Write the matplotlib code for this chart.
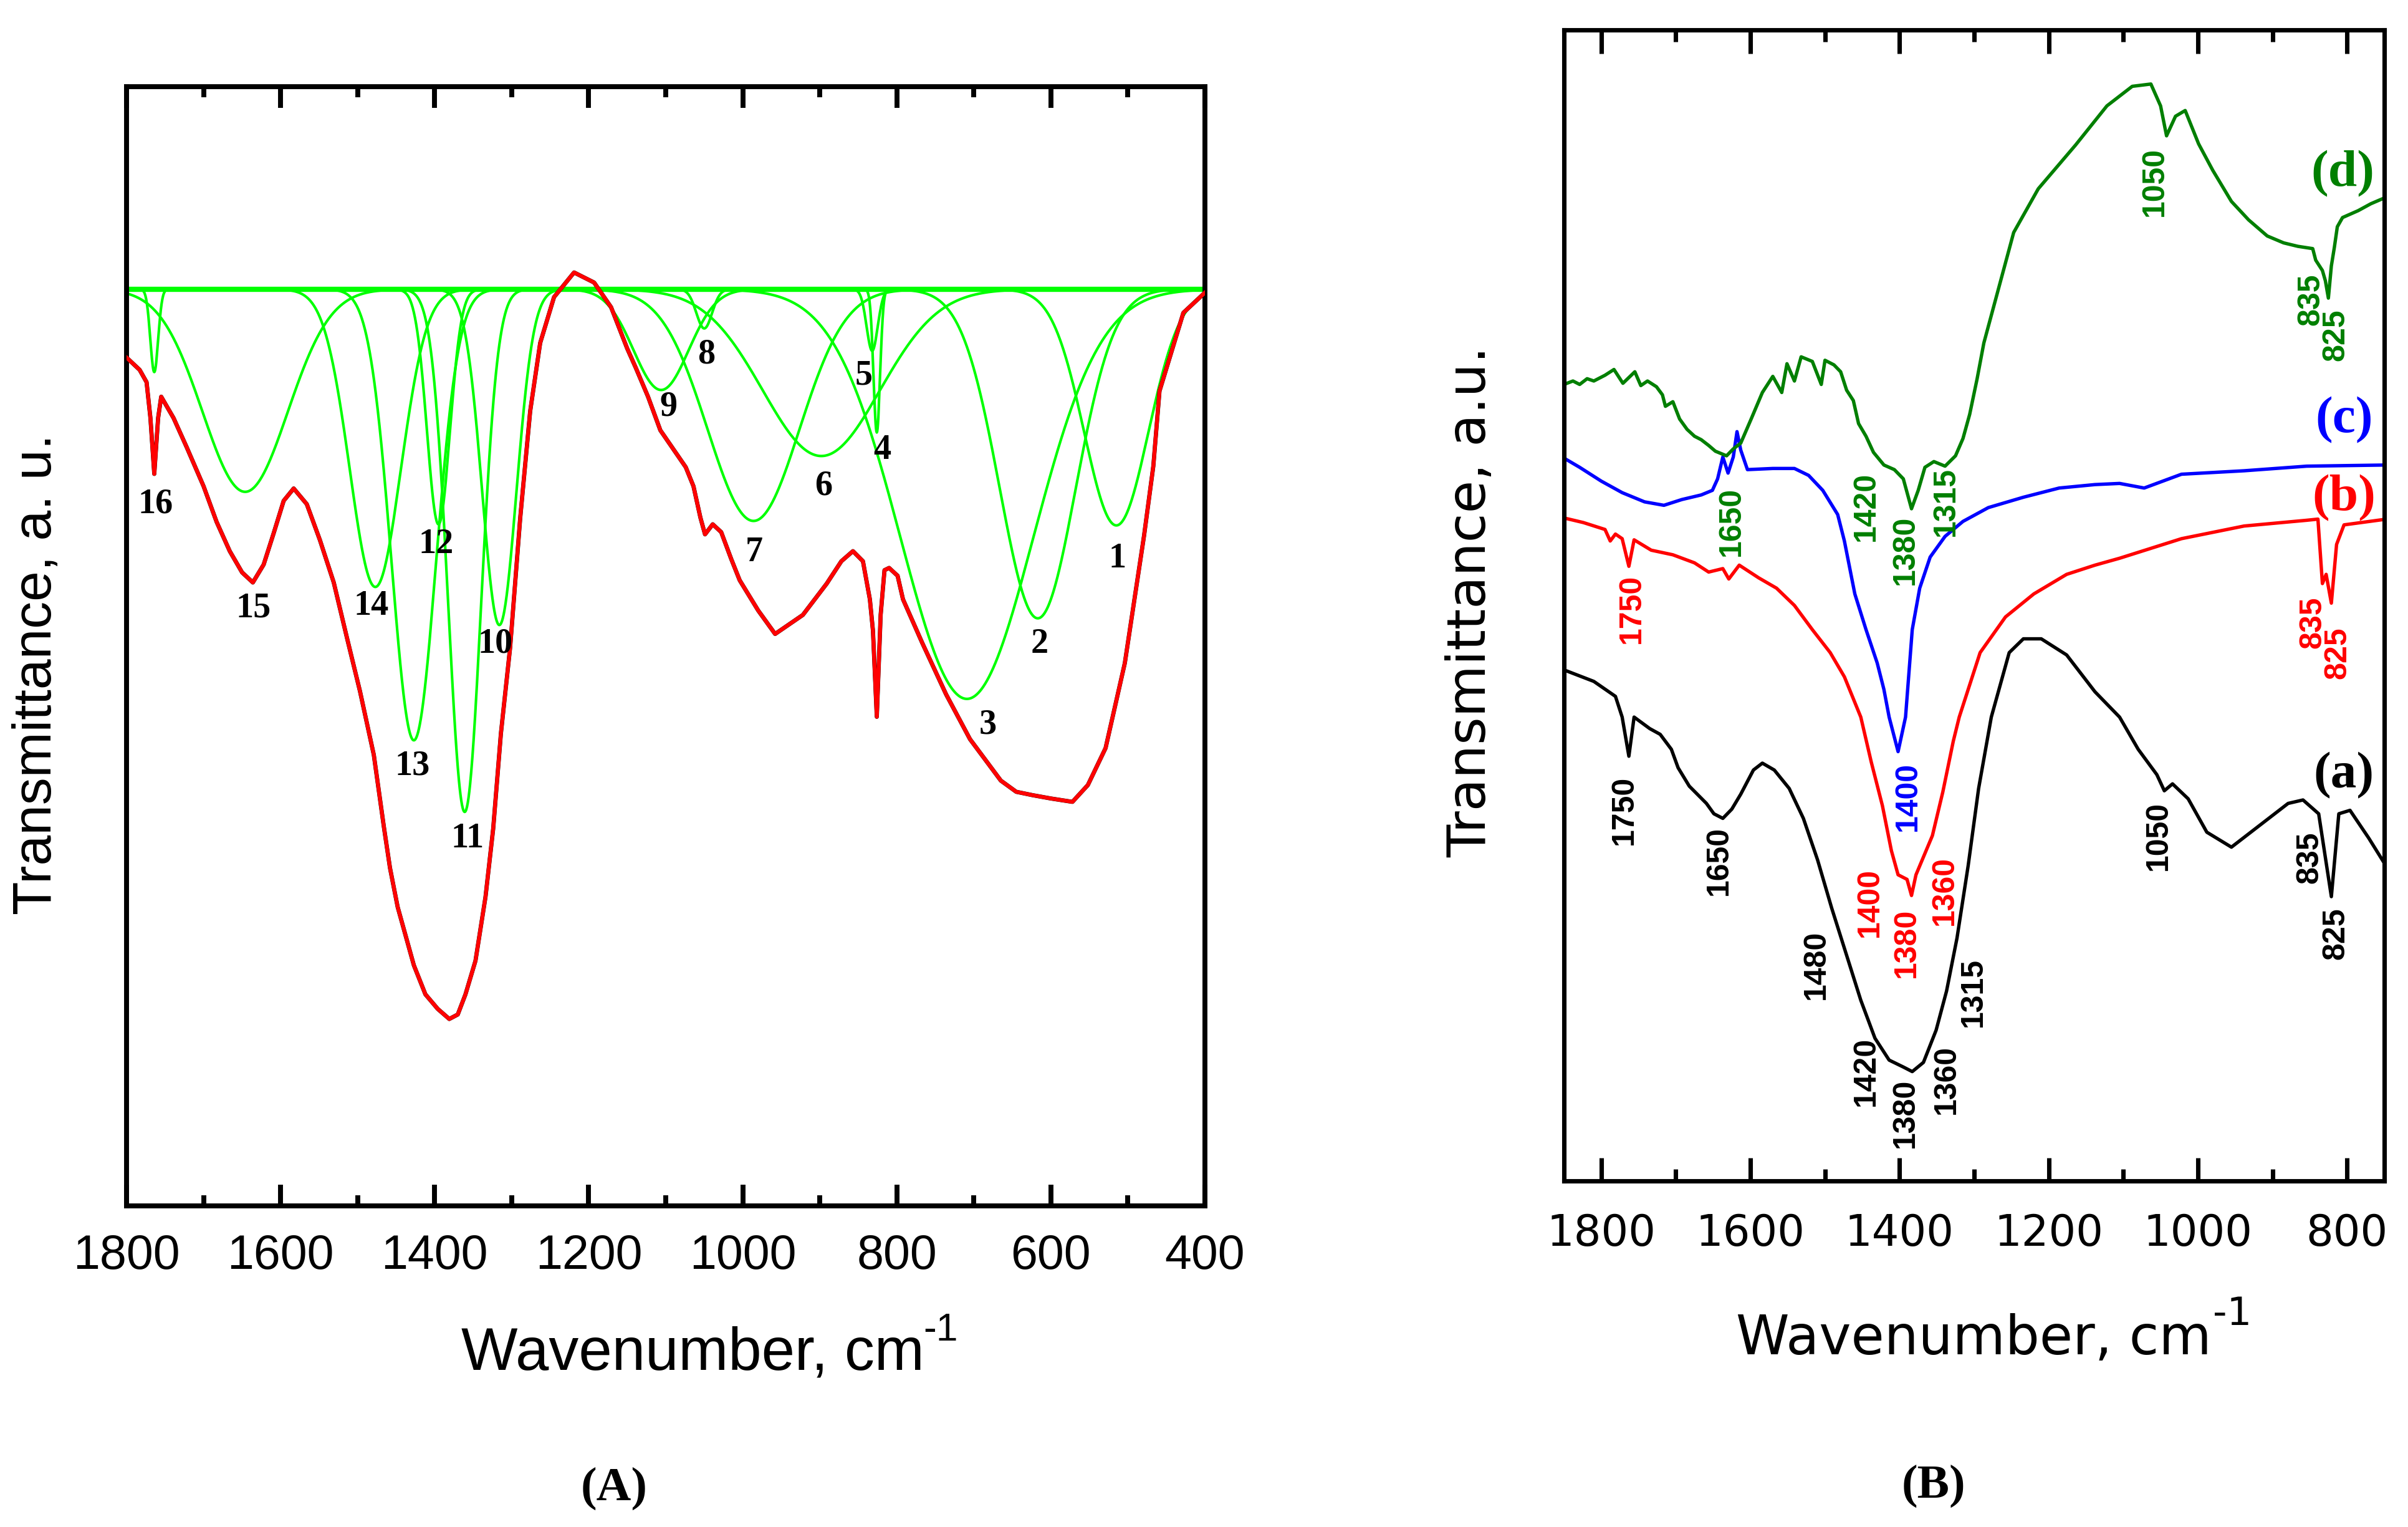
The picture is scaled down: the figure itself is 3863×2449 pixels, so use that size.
import numpy as np
import matplotlib
matplotlib.use("Agg")
import matplotlib.pyplot as plt
from matplotlib.ticker import MultipleLocator

plt.rcParams['font.family'] = ['Liberation Sans', 'DejaVu Sans']

# ---------------- panel A: measured spectrum (wavenumber, transmittance a.u.)
specA_w = [1800, 1783, 1774, 1769, 1764, 1759, 1755, 1739, 1722, 1700, 1683, 1666,
           1650, 1636, 1622, 1609, 1596, 1583, 1566, 1549, 1531, 1514, 1497, 1479,
           1466, 1458, 1448, 1427, 1412, 1396, 1381, 1370, 1360, 1347, 1334, 1324,
           1314, 1302, 1289, 1276, 1263, 1245, 1219, 1193, 1171, 1150, 1139, 1123,
           1107, 1090, 1074, 1064, 1055, 1049, 1039, 1028, 1015, 1004, 980, 958, 922,
           891, 872, 857, 844, 835, 831, 826, 821, 816, 810, 799, 792, 767, 736, 705,
           665, 645, 624, 600, 572, 552, 529, 504, 479, 467, 459, 428, 400]
specA_t = [75.8, 74.7, 73.6, 70.4, 65.4, 70.4, 72.3, 70.4, 67.8, 64.3, 61.1, 58.5,
           56.6, 55.7, 57.3, 60.1, 63.0, 64.1, 62.7, 59.5, 55.7, 50.8, 46.0, 40.3,
           33.9, 30.2, 26.7, 21.5, 18.9, 17.6, 16.7, 17.1, 18.9, 21.9, 27.6, 33.7,
           42.2, 49.9, 61.4, 71.0, 77.1, 81.2, 83.4, 82.5, 80.3, 76.6, 74.9, 72.3,
           69.3, 67.6, 66.0, 64.3, 61.5, 60.0, 60.9, 60.2, 57.8, 55.9, 53.2, 51.1,
           52.8, 55.6, 57.6, 58.5, 57.6, 54.2, 51.4, 43.7, 52.8, 56.8, 57.0, 56.3,
           54.2, 50.3, 45.7, 41.7, 38.0, 37.0, 36.7, 36.4, 36.1, 37.6, 40.9, 48.5,
           59.9, 66.1, 72.8, 79.8, 81.6]

# fitted bands 1..16: centre, depth below baseline, FWHM
band_baseline = 81.9
band_centre = [515, 617, 709, 826, 832, 898, 986, 1050, 1106, 1316, 1361, 1395, 1427, 1477, 1646, 1764]
band_depth = [21.1, 29.4, 36.6, 12.8, 5.5, 14.9, 20.7, 3.5, 9.0, 30.0, 46.7, 21.0, 40.3, 26.6, 18.1, 7.4]
band_fwhm = [98, 116, 203, 10, 17, 179, 140, 24, 84, 52, 50, 35, 68, 78, 130, 12]
band_label_w = [514, 615, 682, 819, 843, 895, 985, 1047, 1096, 1321, 1357, 1398, 1429, 1482, 1635, 1762]
band_label_t = [57.8, 50.2, 43.0, 67.5, 74.2, 64.3, 58.4, 76.1, 71.4, 50.2, 32.8, 59.1, 39.3, 53.6, 53.4, 62.7]

# ---------------- panel B: spectra (a)-(d)
a_w = [1850, 1810, 1781, 1772, 1763, 1756, 1735, 1721, 1706, 1697, 1682, 1659, 1649,
       1637, 1625, 1613, 1596, 1584, 1568, 1548, 1529, 1510, 1491, 1471, 1452, 1433,
       1414, 1395, 1383, 1368, 1351, 1337, 1323, 1308, 1294, 1277, 1253, 1234,
       1210, 1176, 1138, 1105, 1080, 1055, 1045, 1034, 1013, 988, 955, 921, 879, 859,
       838, 821, 811, 796, 771, 747]
a_t = [44.4, 43.4, 42.1, 40.3, 36.9, 40.3, 39.3, 38.8, 37.5, 35.9, 34.3, 32.8, 31.9,
       31.5, 32.3, 33.6, 35.7, 36.3, 35.7, 34.1, 31.5, 27.9, 23.7, 19.6, 15.7, 12.4,
       10.5, 9.9, 9.5, 10.3, 13.1, 16.5, 21.1, 27.4, 34.1, 40.3, 45.9, 47.1,
       47.1, 45.7, 42.5, 40.3, 37.5, 35.3, 33.9, 34.5, 33.2, 30.3, 29.0, 30.7, 32.8,
       33.1, 31.9, 24.7, 31.9, 32.2, 29.8, 27.3]

b_w = [1850, 1824, 1795, 1788, 1781, 1772, 1763, 1756, 1733, 1704, 1675, 1656, 1637,
       1629, 1615, 1589, 1565, 1541, 1517, 1493, 1474, 1452, 1438, 1423, 1411, 1402,
       1390, 1384, 1378, 1356, 1342, 1328, 1320, 1292, 1258, 1220, 1176, 1138, 1105,
       1022, 938, 854, 839, 833, 828, 821, 814, 804, 747]
b_t = [57.6, 57.2, 56.6, 55.6, 56.2, 55.8, 53.4, 55.7, 54.8, 54.4, 53.7, 52.9, 53.2,
       52.3, 53.5, 52.4, 51.5, 50.0, 47.9, 45.9, 43.8, 40.3, 36.4, 32.6, 28.7, 26.6,
       26.2, 24.8, 26.6, 30.0, 33.8, 38.2, 40.3, 45.9, 49.0, 51.0, 52.7, 53.5, 54.1,
       55.8, 56.9, 57.4, 57.5, 51.9, 52.7, 50.2, 55.3, 57.0, 57.5]

c_w = [1850, 1829, 1800, 1772, 1742, 1716, 1692, 1666, 1651, 1644, 1637, 1630, 1623,
       1618, 1613, 1604, 1570, 1541, 1522, 1503, 1483, 1474, 1460, 1445, 1430, 1421,
       1414, 1402, 1392, 1383, 1373, 1359, 1339, 1315, 1281, 1234, 1186, 1138, 1105,
       1072, 1022, 938, 854, 747]
c_t = [62.8, 62.0, 60.8, 59.8, 59.0, 58.7, 59.2, 59.6, 60.0, 61.0, 62.9, 61.5, 62.9,
       65.1, 63.5, 61.8, 61.9, 61.9, 61.3, 60.0, 57.9, 55.6, 51.0, 47.9, 45.0, 42.7,
       40.3, 37.3, 40.3, 47.9, 51.5, 54.2, 56.0, 57.3, 58.5, 59.4, 60.2, 60.5, 60.6,
       60.2, 61.4, 61.7, 62.1, 62.2]

d_w = [1850, 1838, 1829, 1819, 1810, 1795, 1783, 1771, 1755, 1747, 1738, 1726, 1718,
       1714, 1704, 1695, 1685, 1675, 1666, 1656, 1647, 1632, 1623, 1613, 1599, 1584,
       1570, 1558, 1551, 1541, 1532, 1517, 1505, 1500, 1488, 1479, 1471, 1462, 1455,
       1445, 1435, 1421, 1407, 1395, 1384, 1375, 1366, 1354, 1339, 1325, 1315, 1306,
       1296, 1287, 1272, 1247, 1214, 1164, 1122, 1088, 1063, 1050, 1042, 1030, 1017,
       999, 980, 955, 932, 907, 885, 866, 846, 842, 833, 829, 825, 821, 817, 813,
       806, 785, 768, 750]
d_t = [69.2, 69.5, 69.2, 69.7, 69.5, 70.0, 70.5, 69.3, 70.3, 69.1, 69.5, 69.0, 68.3,
       67.3, 67.7, 66.2, 65.3, 64.7, 64.4, 63.9, 63.4, 63.0, 63.6, 64.1, 66.2, 68.5,
       69.9, 68.5, 71.0, 69.5, 71.6, 71.2, 69.2, 71.3, 70.9, 70.3, 68.7, 67.8, 65.8,
       64.7, 63.3, 62.2, 61.8, 61.0, 58.4, 60.0, 62.0, 62.5, 62.1, 63.0, 64.5, 66.6,
       69.7, 72.8, 76.4, 82.4, 86.2, 90.0, 93.4, 95.1, 95.3, 93.4, 90.8, 92.5, 93.0,
       90.1, 87.8, 85.1, 83.5, 82.1, 81.5, 81.2, 81.0, 80.0, 79.1, 78.2, 76.7, 79.5,
       81.1, 82.9, 83.7, 84.3, 84.9, 85.4]

# peak labels on panel B: text, wavenumber, height, series
peak_text = ['1750', '1650', '1480', '1420', '1380', '1360', '1315', '1050', '835', '825',
             '1750', '1400', '1380', '1360', '835', '825',
             '1400',
             '1650', '1420', '1380', '1315', '1050', '835', '825']
peak_w = [1769, 1642, 1512, 1445, 1392, 1337, 1301, 1053, 850, 815,
          1759, 1440, 1390, 1339, 846, 812,
          1389,
          1625, 1445, 1392, 1338, 1058, 848, 815]
peak_t = [32.2, 27.8, 18.8, 9.5, 5.9, 8.8, 16.4, 30.0, 28.1, 21.5,
          49.7, 24.2, 20.7, 25.2, 48.5, 45.9,
          33.4,
          57.3, 58.6, 54.8, 59.0, 86.8, 76.6, 73.5]
peak_series = ['a'] * 10 + ['b'] * 6 + ['c'] + ['d'] * 7

series_names = ['a', 'b', 'c', 'd']
series_colors = {'a': 'black', 'b': '#ff0000', 'c': '#0000ff', 'd': '#007f00'}
series_tag_w = [804, 804, 804, 806]
series_tag_t = [35.2, 59.3, 66.1, 87.5]

fig = plt.figure(figsize=(3863 / 300, 2449 / 300), dpi=300)

# ================= panel A
axA = fig.add_axes([0.05255, 0.21029, 0.44784, 0.73295])
grid = np.linspace(400, 1800, 2801)
axA.axhline(band_baseline, color='#00ff00', lw=2.0, zorder=2)
for c, d, f in zip(band_centre, band_depth, band_fwhm):
    sig = f / 2.3548
    axA.plot(grid, band_baseline - d * np.exp(-0.5 * ((grid - c) / sig) ** 2),
             color='#00ff00', lw=1.0, zorder=2)
axA.plot(specA_w, specA_t, color='black', lw=1.6, zorder=3)
axA.plot(specA_w, specA_t, color='#ff0000', lw=1.5, zorder=4)
for i, (lw_, lt_) in enumerate(zip(band_label_w, band_label_t)):
    axA.text(lw_, lt_, str(i + 1), family='Liberation Serif', weight='bold',
             fontsize=13.5, ha='center', va='center', zorder=5)

axA.set_xlim(1800, 400)
axA.set_ylim(0, 100)
axA.xaxis.set_major_locator(MultipleLocator(200))
axA.xaxis.set_minor_locator(MultipleLocator(100))
axA.tick_params(axis='x', which='both', direction='in', top=True, bottom=True,
                width=1.9, labelsize=18.5, pad=10.5)
axA.tick_params(axis='x', which='major', length=8.2)
axA.tick_params(axis='x', which='minor', length=4.1)
axA.tick_params(axis='y', which='both', left=False, labelleft=False)
for s in axA.spines.values():
    s.set_linewidth(1.9)
axA.text(-0.0827, 0.4747, 'Transmittance, a. u.', transform=axA.transAxes,
         rotation=90, ha='center', va='center', fontsize=21)
axA.text(0.3104, -0.1465, 'Wavenumber, cm', transform=axA.transAxes,
         ha='left', va='baseline', fontsize=23)
axA.text(0.739, -0.1203, '-1', transform=axA.transAxes,
         ha='left', va='baseline', fontsize=15)

# ================= panel B
axB = fig.add_axes([0.6495, 0.22662, 0.34066, 0.75378])
series = {'a': (a_w, a_t), 'b': (b_w, b_t), 'c': (c_w, c_t), 'd': (d_w, d_t)}
for name in series_names:
    w, t = series[name]
    axB.plot(w, t, color=series_colors[name], lw=1.3)
for txt, w, t, s in zip(peak_text, peak_w, peak_t, peak_series):
    axB.text(w, t, txt, color=series_colors[s], rotation=90, ha='center', va='center',
             family='Liberation Sans', weight='bold', fontsize=12)
for name, w, t in zip(series_names, series_tag_w, series_tag_t):
    axB.text(w, t, '(%s)' % name, color=series_colors[name], ha='center', va='center',
             family='Liberation Serif', weight='bold', fontsize=20)

axB.set_xlim(1850, 750)
axB.set_ylim(0, 100)
axB.xaxis.set_major_locator(MultipleLocator(200))
axB.xaxis.set_minor_locator(MultipleLocator(100))
axB.tick_params(axis='x', which='both', direction='in', top=True, bottom=True,
                width=1.7, labelsize=16.5, pad=12.3)
axB.tick_params(axis='x', which='major', length=9)
axB.tick_params(axis='x', which='minor', length=4.6)
axB.tick_params(axis='y', which='both', left=False, labelleft=False)
for lab in axB.get_xticklabels():
    lab.set_family('DejaVu Sans')
for s in axB.spines.values():
    s.set_linewidth(1.7)
axB.text(-0.1132, 0.503, 'Transmittance, a.u.', transform=axB.transAxes,
         rotation=90, ha='center', va='center', fontsize=20.5, family='DejaVu Sans')
axB.text(0.2097, -0.1506, 'Wavenumber, cm', transform=axB.transAxes,
         ha='left', va='baseline', fontsize=20.8, family='DejaVu Sans')
axB.text(0.791, -0.1251, '-1', transform=axB.transAxes,
         ha='left', va='baseline', fontsize=15, family='DejaVu Sans')

fig.text(0.255, 0.025, '(A)', family='Liberation Serif', weight='bold', fontsize=18.5,
         ha='center', va='center')
fig.text(0.803, 0.027, '(B)', family='Liberation Serif', weight='bold', fontsize=18.5,
         ha='center', va='center')

fig.savefig('out.png', dpi=300)
